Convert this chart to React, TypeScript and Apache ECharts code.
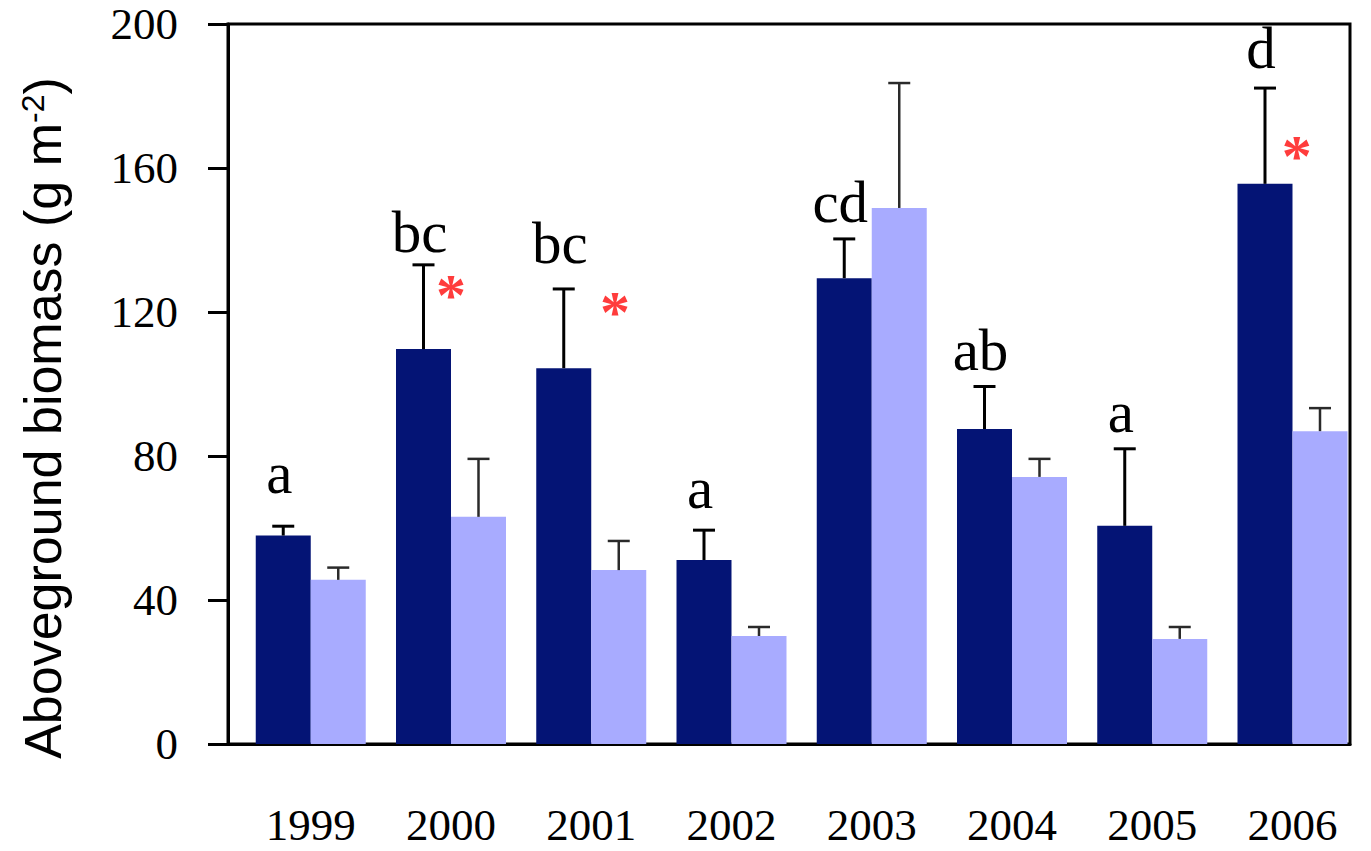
import React, { useEffect, useRef } from "react";
import * as echarts from "echarts";

const years = ["1999", "2000", "2001", "2002", "2003", "2004", "2005", "2006"];
const darkMean = [57.9, 109.7, 104.4, 51.1, 129.4, 87.5, 60.6, 155.6];
const darkSE = [2.6, 23.4, 22.0, 8.3, 10.9, 11.8, 21.4, 26.6];
const lightMean = [45.6, 63.1, 48.3, 30.0, 148.9, 74.2, 29.2, 86.9];
const lightSE = [3.4, 16.1, 8.1, 2.5, 34.7, 5.0, 3.3, 6.4];
const letters = ["a", "bc", "bc", "a", "cd", "ab", "a", "d"];
const letterY = [69.7, 136.7, 133.6, 65.6, 145.0, 103.9, 86.7, 187.8];
const starX = [1.0, 2.17, 7.03];
const starY = [127.1, 122.4, 165.8];
const yTicks = { min: 0, max: 200, interval: 40 };

const DARK = "#041475";
const LIGHT = "#a8abff";
const BAR_W = 55;

export default function App() {
  const ref = useRef<HTMLDivElement>(null);
  useEffect(() => {
    if (!ref.current) return;
    const chart = echarts.init(ref.current, null, { renderer: "svg" });

    const errSeries = (mean: number[], se: number[], dx: number, color: string, lw: number) => ({
      type: "custom",
      z: 5,
      data: mean.map((m, i) => [i, m, se[i]]),
      renderItem: (params: any, api: any) => {
        const x = api.value(0);
        const m = api.value(1);
        const s = api.value(2);
        const b = api.coord([x, m]);
        const t = api.coord([x, m + s]);
        const cx = b[0] + dx;
        const half = 11;
        return {
          type: "group",
          children: [
            { type: "line", shape: { x1: cx, y1: b[1], x2: cx, y2: t[1] }, style: { stroke: color, lineWidth: lw } },
            { type: "line", shape: { x1: cx - half, y1: t[1], x2: cx + half, y2: t[1] }, style: { stroke: color, lineWidth: lw } },
          ],
        };
      },
    });

    const option: any = {
      animation: false,
      grid: {
        left: 228,
        right: 21,
        top: 24,
        bottom: 107,
        show: true,
        borderColor: "#000",
        borderWidth: 3,
        backgroundColor: "transparent",
        outerBoundsMode: "none",
      },
      xAxis: {
        type: "value",
        min: -0.59,
        max: 7.41,
        splitLine: { show: false },
        axisTick: { show: false },
        axisLine: { show: true, onZero: false, lineStyle: { color: "#000", width: 3 } },
        axisLabel: {
          customValues: years.map((_, i) => i),
          formatter: (v: number) => years[Math.round(v)] ?? "",
          fontFamily: "Liberation Serif",
          fontSize: 45,
          color: "#000",
          margin: 58,
        },
      },
      yAxis: {
        type: "value",
        min: yTicks.min,
        max: yTicks.max,
        interval: yTicks.interval,
        splitLine: { show: false },
        axisLine: { show: true, onZero: false, lineStyle: { color: "#000", width: 3 } },
        axisTick: { show: true, inside: false, length: 20, lineStyle: { color: "#000", width: 3 } },
        axisLabel: {
          fontFamily: "Liberation Serif",
          fontSize: 45,
          color: "#000",
          margin: 50,
        },
      },
      series: [
        {
          type: "bar",
          name: "dark",
          barWidth: BAR_W,
          barGap: "0%",
          itemStyle: { color: DARK },
          data: darkMean.map((v, i) => [i, v]),
          z: 2,
        },
        {
          type: "bar",
          name: "light",
          barWidth: BAR_W,
          barGap: "0%",
          itemStyle: { color: LIGHT },
          data: lightMean.map((v, i) => [i, v]),
          z: 2,
        },
        errSeries(darkMean, darkSE, -BAR_W / 2, "#000", 3),
        errSeries(lightMean, lightSE, BAR_W / 2, "#2a2a2a", 2.5),
        {
          type: "custom",
          z: 6,
          data: letters.map((l, i) => [i, letterY[i]]),
          renderItem: (params: any, api: any) => {
            const p = api.coord([api.value(0), api.value(1)]);
            const fs = 59;
            return {
              type: "text",
              x: p[0] - BAR_W / 2 - 4,
              y: p[1] - 0.34 * fs,
              style: {
                text: letters[params.dataIndex],
                fontFamily: "Liberation Serif",
                fontSize: fs,
                fill: "#000",
                align: "center",
                verticalAlign: "middle",
              },
            };
          },
        },
        {
          type: "custom",
          z: 6,
          data: starX.map((x, i) => [x, starY[i]]),
          renderItem: (params: any, api: any) => {
            const p = api.coord([api.value(0), api.value(1)]);
            const fs = 60;
            return {
              type: "text",
              x: p[0],
              y: p[1] + 0.14 * fs,
              style: {
                text: "*",
                fontFamily: "Liberation Serif",
                fontWeight: "bold",
                fontSize: fs,
                fill: "#ff3c3c",
                align: "center",
                verticalAlign: "middle",
              },
            };
          },
        },
      ],
      graphic: [
        {
          type: "text",
          x: 43,
          y: 418,
          rotation: Math.PI / 2,
          style: {
            text: "{n|Aboveground biomass (g m}{s|-2}{n|)}",
            align: "center",
            verticalAlign: "middle",
            rich: {
              n: { fontFamily: "Liberation Sans", fontSize: 52, fill: "#000", color: "#000" },
              s: { fontFamily: "Liberation Sans", fontSize: 32, fill: "#000", color: "#000", verticalAlign: "top", padding: [0, 0, 20, 0] },
            },
          },
        },
      ],
    };
    chart.setOption(option);
    return () => chart.dispose();
  }, []);
  return (
    <div
      ref={ref}
      style={{ position: "fixed", left: 0, top: 0, width: 1371, height: 851, background: "#fff" }}
    />
  );
}
